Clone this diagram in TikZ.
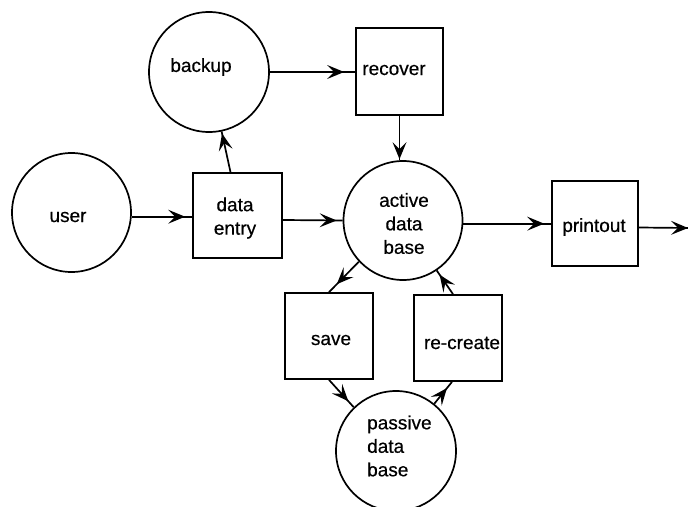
\documentclass[tikz,border=0pt]{standalone}
\usepackage{fontspec}
\setmainfont{Liberation Sans}
\newfontfamily\labelfont[FakeBold=0.5]{Liberation Sans}
\usetikzlibrary{decorations.markings,calc}
\tikzset{
  every node/.style={font=\labelfont\fontsize{19}{23.5}\selectfont},
  proc/.style={draw, line width=1.7pt, circle, minimum size=#1, inner sep=0pt},
  proc/.default=120pt,
  act/.style={draw, line width=1.7pt, rectangle, inner sep=0pt},
  lbl/.style={inner sep=0pt, align=center},
  arr/.style={line width=1.7pt, postaction={decorate},
    decoration={markings, mark=at position #1 with {\fill (0pt,0pt) -- (-17pt,7pt) -- (-10pt,0pt) -- (-17pt,-7pt) -- cycle;}}},
  arr/.default=1
}
\begin{document}
\begin{tikzpicture}[x=1pt,y=-1pt]
\useasboundingbox (0,0) rectangle (688,506);
% circles
\node[proc=120pt] (backup) at (209,72) {};
\node[lbl] (backupL) at (201,67) {backup};
\node[proc=119pt] (user) at (71.5,212.5) {};
\node[lbl] (userL) at (68,217) {user};
\node[proc=119pt] (active) at (403,220.5) {};
\node[lbl] (activeL) at (404,223.5) {active\\data\\base};
\node[proc=120pt] (passive) at (396,451) {};
\node[lbl, align=left, anchor=west] (passiveL) at (367,446) {passive\\data\\base};
% boxes
\node[act, minimum width=87pt, minimum height=87pt] (recover) at (399.5,71.5) {};
\node[lbl] (recoverL) at (394,70) {recover};
\node[act, minimum width=89pt, minimum height=85pt] (dataentry) at (237.5,215.5) {};
\node[lbl] (dataentryL) at (235,218) {data\\entry};
\node[act, minimum width=86pt, minimum height=85pt] (printout) at (595,223.5) {};
\node[lbl] (printoutL) at (594,227) {printout};
\node[act, minimum width=88pt, minimum height=86pt] (save) at (329,336) {};
\node[lbl] (saveL) at (331,340) {save};
\node[act, minimum width=88pt, minimum height=86pt] (recreate) at (458,338) {};
\node[lbl] (recreateL) at (462,343) {re-create};
\coordinate (out) at (688,228);
% connectors
\draw[arr=-7pt] (user.-4) -- (user.-4 -| dataentry.west);
\draw[arr=-6pt] ($(dataentry.east)+(0,4.5)$) -- (active.west);
\draw[arr=-2pt] ($(dataentry.north)+(-7,0)$) -- (backup.-78);
\draw[arr=-11pt] (backup.east) -- (backup.east -| recover.west);
\draw[arr=-1pt] (recover.south) -- (recover.south |- active.north);
\draw[arr=-7pt] (active.-3) -- (active.-3 -| printout.west);
\draw[arr=1] ($(printout.east)+(0,4)$) -- (out);
\draw[arr=-11pt] (active.223) -- (save.north);
\draw[arr=-8pt] (save.south) -- (passive.134);
\draw[arr=-8pt] (passive.51) -- ($(recreate.south)+(-6,0)$);
\draw[arr=-5pt] ($(recreate.north)+(-5,0)$) -- (active.-56);
\end{tikzpicture}
\end{document}
